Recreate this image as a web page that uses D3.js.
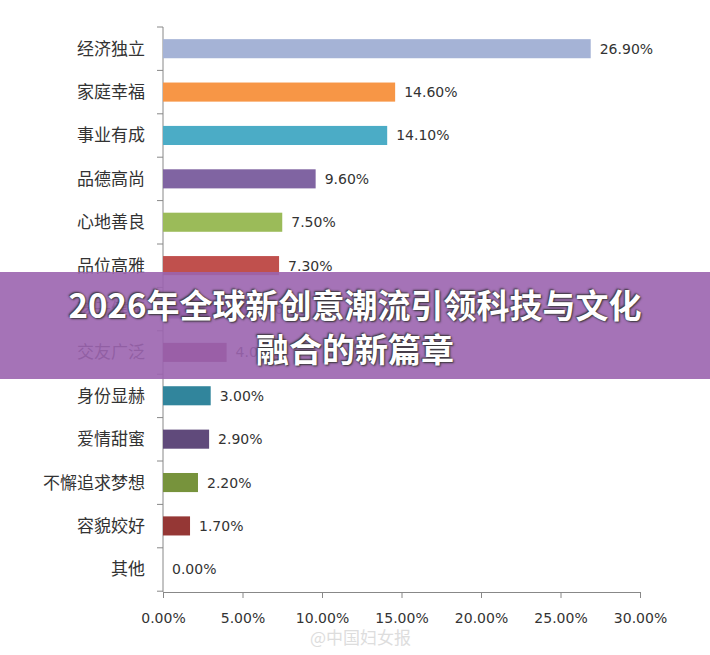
<!DOCTYPE html>
<html lang="en">
<head>
<meta charset="utf-8">
<script src="https://d3js.org/d3.v7.min.js"></script>
<style>
body { margin: 0; background: #fff; }
#wrap { position: relative; width: 710px; height: 655px; }
#banner { position: absolute; left: 0; top: 272px; width: 710px; height: 107px; background: rgba(155, 100, 175, 0.9);
  color: #fff; font: bold 33px "Noto Sans CJK SC", sans-serif; text-align: center; line-height: 44px; padding-top: 10px; box-sizing: border-box;
  text-shadow: 1px 1px 2px #333, -1px -1px 2px #333; }
</style>
</head>
<body>
<div id="wrap"></div>
<script>
var w = 710, h = 655

var categories = ["经济独立", "家庭幸福", "事业有成", "品德高尚", "心地善良", "品位高雅", "孩子健康", "交友广泛", "身份显赫", "爱情甜蜜", "不懈追求梦想", "容貌姣好", "其他"]
var values = [26.9, 14.6, 14.1, 9.6, 7.5, 7.3, 5.6, 4.0, 3.0, 2.9, 2.2, 1.7, 0]
var colors = ["#a5b3d6", "#f79646", "#4bacc6", "#8064a2", "#9bbb59", "#c0504d", "#6a4f8a", "#8c3a5a", "#31859c", "#604a7b", "#77933c", "#953735", "#953735"]
var ticks = [0, 5, 10, 15, 20, 25, 30]

var svg = d3.select("#wrap").append("svg").attr("width", w).attr("height", h)

var x = d3.scaleLinear().domain([0, 30]).range([163, 640])
var y = d3.scaleBand().domain(categories).range([27, 591]).paddingInner(0.56).paddingOuter(0.28)

// axes
svg.append("line").attr("x1", 163).attr("x2", 163).attr("y1", 27).attr("y2", 592).style("stroke", "#888")
svg.selectAll(".yt").data(d3.range(categories.length + 1)).enter().append("line")
	.attr("x1", 157).attr("x2", 163)
	.attr("y1", function(d) { return 27 + d * 43.4 }).attr("y2", function(d) { return 27 + d * 43.4 })
	.style("stroke", "#888")

var xa = svg.append("g").attr("transform", "translate(0,592)")
	.call(d3.axisBottom(x).tickValues(ticks).tickSize(6).tickFormat(function(d) { return d.toFixed(2) + "%" }))
xa.select(".domain").style("stroke", "#888")
xa.selectAll("line").style("stroke", "#888")
xa.selectAll("text").attr("dy", "1.6em").style("font", "14px 'DejaVu Sans', sans-serif").style("fill", "#333")

svg.selectAll("rect").data(categories).enter().append("rect")
	.attr("x", x(0)).attr("y", function(d) { return y(d) })
	.attr("width", function(d, i) { return x(values[i]) - x(0) })
	.attr("height", y.bandwidth())
	.style("fill", function(d, i) { return colors[i] })

svg.selectAll(".vl").data(categories).enter().append("text")
	.attr("x", function(d, i) { return x(values[i]) + 9 })
	.attr("y", function(d) { return y(d) + y.bandwidth() / 2 + 5 })
	.style("font", "14px 'DejaVu Sans', sans-serif").style("fill", "#333")
	.text(function(d, i) { return values[i].toFixed(2) + "%" })

svg.selectAll(".cl").data(categories).enter().append("text")
	.attr("x", 145).attr("text-anchor", "end")
	.attr("y", function(d) { return y(d) + y.bandwidth() / 2 + 6 })
	.style("font", "17px 'Noto Sans CJK SC', sans-serif").style("fill", "#333")
	.text(function(d) { return d })

svg.append("text").attr("x", 310).attr("y", 644).style("font", "17px 'Noto Sans CJK SC', sans-serif").style("fill", "#ddd").text("@中国妇女报")

d3.select("#wrap").append("div").attr("id", "banner").html("2026年全球新创意潮流引领科技与文化<br>融合的新篇章")
</script>
</body>
</html>
